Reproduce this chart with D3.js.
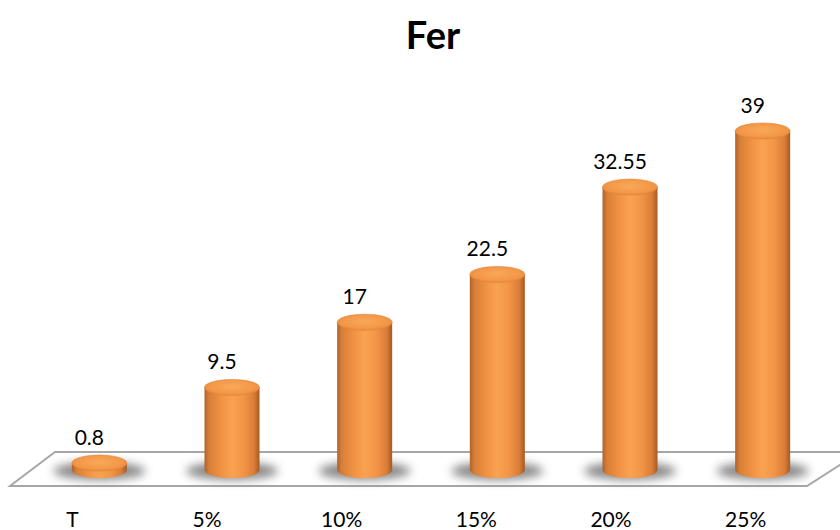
<!DOCTYPE html>
<html>
<head>
<meta charset="utf-8">
<script src="https://cdn.jsdelivr.net/npm/d3@7"></script>
<style>
  html, body { margin: 0; padding: 0; background: #fff; }
  svg { display: block; }
</style>
</head>
<body>
<svg id="chart" width="840" height="530"></svg>
<script>
// Iron content by dose
const categories = ["T", "5%", "10%", "15%", "20%", "25%"];
const values = [0.8, 9.5, 17, 22.5, 32.55, 39];
const valueLabels = ["0.8", "9.5", "17", "22.5", "32.55", "39"];
const chartTitle = "Fer";

const svg = d3.select("#chart");
const font = "Lato, 'Open Sans', sans-serif";

// Front plane (category labels) and back plane (cylinders)
const xFront = d3.scaleBand().domain(categories).range([5, 813]);
const xBack = d3.scaleBand().domain(categories).range([33, 829]);
const y = d3.scaleLinear().domain([0, 39]).range([470, 131]);

const rx = 27.5, ry = 8;
const cxOf = c => xBack(c) + xBack.bandwidth() / 2;

const defs = svg.append("defs");
const bodyGrad = defs.append("linearGradient").attr("id", "cylBody")
  .attr("x1", "0%").attr("x2", "100%").attr("y1", "0%").attr("y2", "0%");
[[0, "#b0612a"], [0.08, "#d77e37"], [0.3, "#f19243"], [0.5, "#f9a252"],
 [0.72, "#f29446"], [0.9, "#d97d37"], [1, "#a65a24"]]
  .forEach(([o, c]) => bodyGrad.append("stop").attr("offset", o).attr("stop-color", c));

const topGrad = defs.append("radialGradient").attr("id", "cylTop")
  .attr("cx", "50%").attr("cy", "45%").attr("r", "60%");
[[0, "#faa85a"], [0.7, "#f39747"], [1, "#e2863a"]]
  .forEach(([o, c]) => topGrad.append("stop").attr("offset", o).attr("stop-color", c));

const blur = defs.append("filter").attr("id", "shadowBlur")
  .attr("x", "-50%").attr("y", "-100%").attr("width", "200%").attr("height", "300%");
blur.append("feGaussianBlur").attr("stdDeviation", 5);

// Title
svg.append("text")
  .attr("x", 433).attr("y", 49)
  .attr("text-anchor", "middle")
  .attr("font-family", font)
  .attr("font-weight", "bold")
  .attr("font-size", 38)
  .attr("fill", "#000")
  .text(chartTitle);

// Floor
const floorTopY = 452, floorBotY = 486;
svg.append("path")
  .attr("d", `M10,${floorBotY} L55,${floorTopY} L860,${floorTopY} L807,${floorBotY} Z`)
  .attr("fill", "#fff")
  .attr("stroke", "#a6a6a6")
  .attr("stroke-width", 2);

const bars = svg.append("g").selectAll("g.bar")
  .data(categories.map((c, i) => ({ c, v: values[i], label: valueLabels[i] })))
  .join("g").attr("class", "bar");

// Soft shadow under each cylinder
bars.append("ellipse")
  .attr("cx", d => cxOf(d.c))
  .attr("cy", y(0) + 1)
  .attr("rx", 46).attr("ry", 9)
  .attr("fill", "#6a6a6a")
  .attr("opacity", 0.8)
  .attr("filter", "url(#shadowBlur)");

// Cylinder body: side rectangle plus rounded bottom
bars.append("path")
  .attr("d", d => {
    const cx = cxOf(d.c);
    const yt = y(d.v), yb = y(0);
    return `M${cx - rx},${yt} L${cx - rx},${yb} A${rx},${ry} 0 0 0 ${cx + rx},${yb} L${cx + rx},${yt} Z`;
  })
  .attr("fill", "url(#cylBody)");

// Cylinder top
bars.append("ellipse")
  .attr("cx", d => cxOf(d.c))
  .attr("cy", d => y(d.v))
  .attr("rx", rx).attr("ry", ry)
  .attr("fill", "url(#cylTop)")
  .attr("stroke", "#dc863b")
  .attr("stroke-width", 0.6);

// Value labels
bars.append("text")
  .attr("x", d => cxOf(d.c) - 10)
  .attr("y", d => y(d.v) - 18)
  .attr("text-anchor", "middle")
  .attr("font-family", font)
  .attr("font-size", 21)
  .attr("fill", "#000")
  .text(d => d.label);

// Category axis labels
const axis = d3.axisBottom(xFront).tickSize(0).tickPadding(0);
const gAxis = svg.append("g").attr("transform", "translate(0,512)").call(axis);
gAxis.select(".domain").remove();
gAxis.selectAll("text")
  .attr("font-family", font)
  .attr("font-size", 21)
  .attr("fill", "#000")
  .attr("dy", "0.35em")
  .attr("y", 8);
</script>
</body>
</html>
